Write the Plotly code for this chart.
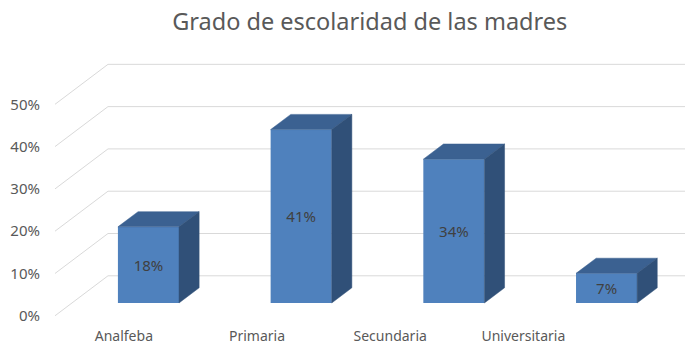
import plotly.graph_objects as go

# ---- data ----
categories = ["Analfeba", "Primaria", "Secundaria", "Universitaria"]
values = [18, 41, 34, 7]            # percent
y_ticks = [0, 10, 20, 30, 40, 50]
y_tick_labels = ["0%", "10%", "20%", "30%", "40%", "50%"]
title_text = "Grado de escolaridad de las madres"

# ---- 3D (oblique) projection style constants ----
DEPTH_DX = 0.347      # full depth shift in x units (category spacing)
DEPTH_DY = 9.45       # full depth shift in value units (%)
Z_FRONT = 0.32        # bar front at this depth fraction
Z_BACK = 0.70         # bar back at this depth fraction
BAR_W = 0.40
X_MIN = -0.501
X_MAX = 3.677
LABEL_STEP = 0.872
LABEL_SHIFT = -0.05

FRONT = "#4F81BD"
TOP = "#3B6191"
SIDE = "#305078"
GRID = "#D9D9D9"

fig = go.Figure()

# gridlines: left diagonal + back wall
shapes = []
for v in y_ticks:
    shapes.append(dict(type="line", xref="x", yref="y", layer="below",
                       x0=X_MIN, y0=v, x1=X_MIN + DEPTH_DX, y1=v + DEPTH_DY,
                       line=dict(color=GRID, width=1)))
    shapes.append(dict(type="line", xref="x", yref="y", layer="below",
                       x0=X_MIN + DEPTH_DX, y0=v + DEPTH_DY, x1=X_MAX, y1=v + DEPTH_DY,
                       line=dict(color=GRID, width=1)))

base0 = Z_FRONT * DEPTH_DY
shift_x = Z_FRONT * DEPTH_DX
dxb = (Z_BACK - Z_FRONT) * DEPTH_DX
dyb = (Z_BACK - Z_FRONT) * DEPTH_DY

xs_front = [i + shift_x for i in range(len(categories))]

# front faces as bars
fig.add_trace(go.Bar(
    x=xs_front, y=values, base=[base0] * len(values), width=BAR_W,
    marker=dict(color=FRONT, line=dict(width=0)),
    text=[f"{v}%" for v in values], textposition="inside",
    insidetextanchor="middle", textangle=0,
    textfont=dict(family="Noto Sans", size=15, color="#404040"),
    hoverinfo="skip", showlegend=False,
))

# top and side faces
top_x, top_y, side_x, side_y = [], [], [], []
for xc, v in zip(xs_front, values):
    xl = xc - BAR_W / 2
    xr = xc + BAR_W / 2
    t = base0 + v
    top_x += [xl, xr, xr + dxb, xl + dxb, xl, None]
    top_y += [t, t, t + dyb, t + dyb, t, None]
    side_x += [xr, xr + dxb, xr + dxb, xr, xr, None]
    side_y += [base0, base0 + dyb, t + dyb, t, base0, None]

fig.add_trace(go.Scatter(x=top_x, y=top_y, mode="lines", fill="toself",
                         fillcolor=TOP, line=dict(color=TOP, width=0.5),
                         hoverinfo="skip", showlegend=False))
fig.add_trace(go.Scatter(x=side_x, y=side_y, mode="lines", fill="toself",
                         fillcolor=SIDE, line=dict(color=SIDE, width=0.5),
                         hoverinfo="skip", showlegend=False))

label_pos = [i * LABEL_STEP + LABEL_SHIFT for i in range(len(categories))]

fig.update_layout(
    width=693, height=357,
    margin=dict(l=47, r=8, t=54, b=45, autoexpand=False),
    paper_bgcolor="white", plot_bgcolor="white",
    shapes=shapes,
    showlegend=False,
    hovermode=False,
    title=dict(text=title_text, x=0.522, xanchor="center", y=0.962, yanchor="middle",
               yref="container", automargin=False,
               font=dict(family="Noto Sans", size=23.5, color="#595959")),
    xaxis=dict(range=[X_MIN, X_MAX], showgrid=False, zeroline=False, showline=False,
               tickvals=label_pos, ticktext=categories, ticks="", automargin=False,
               ticklabelstandoff=6,
               tickfont=dict(family="Noto Sans", size=14, color="#595959"),
               fixedrange=True),
    yaxis=dict(range=[-1, 60], showgrid=False, zeroline=False, showline=False,
               tickvals=y_ticks, ticktext=y_tick_labels, ticks="", automargin=False,
               ticklabelstandoff=14,
               tickfont=dict(family="Noto Sans", size=15, color="#595959"),
               fixedrange=True),
)

fig.write_html("out.html")
